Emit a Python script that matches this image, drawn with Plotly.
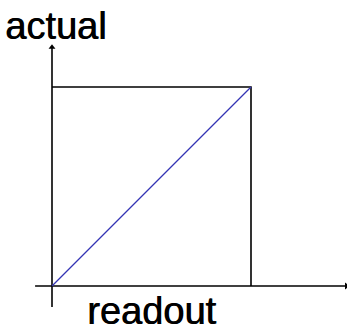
import plotly.graph_objects as go

# calibration plot: actual vs readout, ideal 1:1 response
readout = [0, 1]
actual = [0, 1]

# bounding box of the full-scale range
box_x = [0, 1, 1]
box_y = [1, 1, 0]

# axis extents (data units)
xaxis_x = [-0.085, 1.48]
xaxis_y = [0, 0]
yaxis_x = [0, 0]
yaxis_y = [-0.106, 1.2]

W, H = 347, 328
fig = go.Figure()

fig.add_trace(go.Scatter(x=xaxis_x, y=xaxis_y, mode='lines',
                         line=dict(color='black', width=1.6), hoverinfo='skip'))
fig.add_trace(go.Scatter(x=yaxis_x, y=yaxis_y, mode='lines',
                         line=dict(color='black', width=1.6), hoverinfo='skip'))
fig.add_trace(go.Scatter(x=box_x, y=box_y, mode='lines',
                         line=dict(color='black', width=1.6), hoverinfo='skip'))
fig.add_trace(go.Scatter(x=readout, y=actual, mode='lines',
                         line=dict(color='#3434b4', width=1.2), hoverinfo='skip'))

# arrow tips
fig.add_trace(go.Scatter(x=[yaxis_x[1]], y=[yaxis_y[1]], mode='markers',
                         marker=dict(symbol='triangle-up', size=6, color='black'),
                         hoverinfo='skip'))
fig.add_trace(go.Scatter(x=[xaxis_x[1]], y=[xaxis_y[1]], mode='markers',
                         marker=dict(symbol='triangle-right', size=6, color='black'),
                         hoverinfo='skip'))

# slightly heavier strokes, like the scanned original
font = dict(family='Liberation Sans, Arial, sans-serif', size=38, color='black',
            shadow='0.7px 0px 0px black')
fig.add_annotation(text='actual', x=3 / W, y=1 - 49 / H, xref='paper', yref='paper',
                   xanchor='left', yanchor='bottom', showarrow=False, font=font)
fig.add_annotation(text='readout', x=85 / W, y=1 - 334 / H, xref='paper', yref='paper',
                   xanchor='left', yanchor='bottom', showarrow=False, font=font)

# 199 px per unit, origin at pixel (52, 286)
fig.update_xaxes(range=[-52 / 199, (W - 52) / 199], visible=False)
fig.update_yaxes(range=[(286 - H) / 199, 286 / 199], visible=False)
fig.update_layout(width=W, height=H, margin=dict(l=0, r=0, t=0, b=0),
                  showlegend=False, plot_bgcolor='white', paper_bgcolor='white')

fig.write_html("out.html", config={'displayModeBar': False},
               post_script="document.body.style.margin='0';")
